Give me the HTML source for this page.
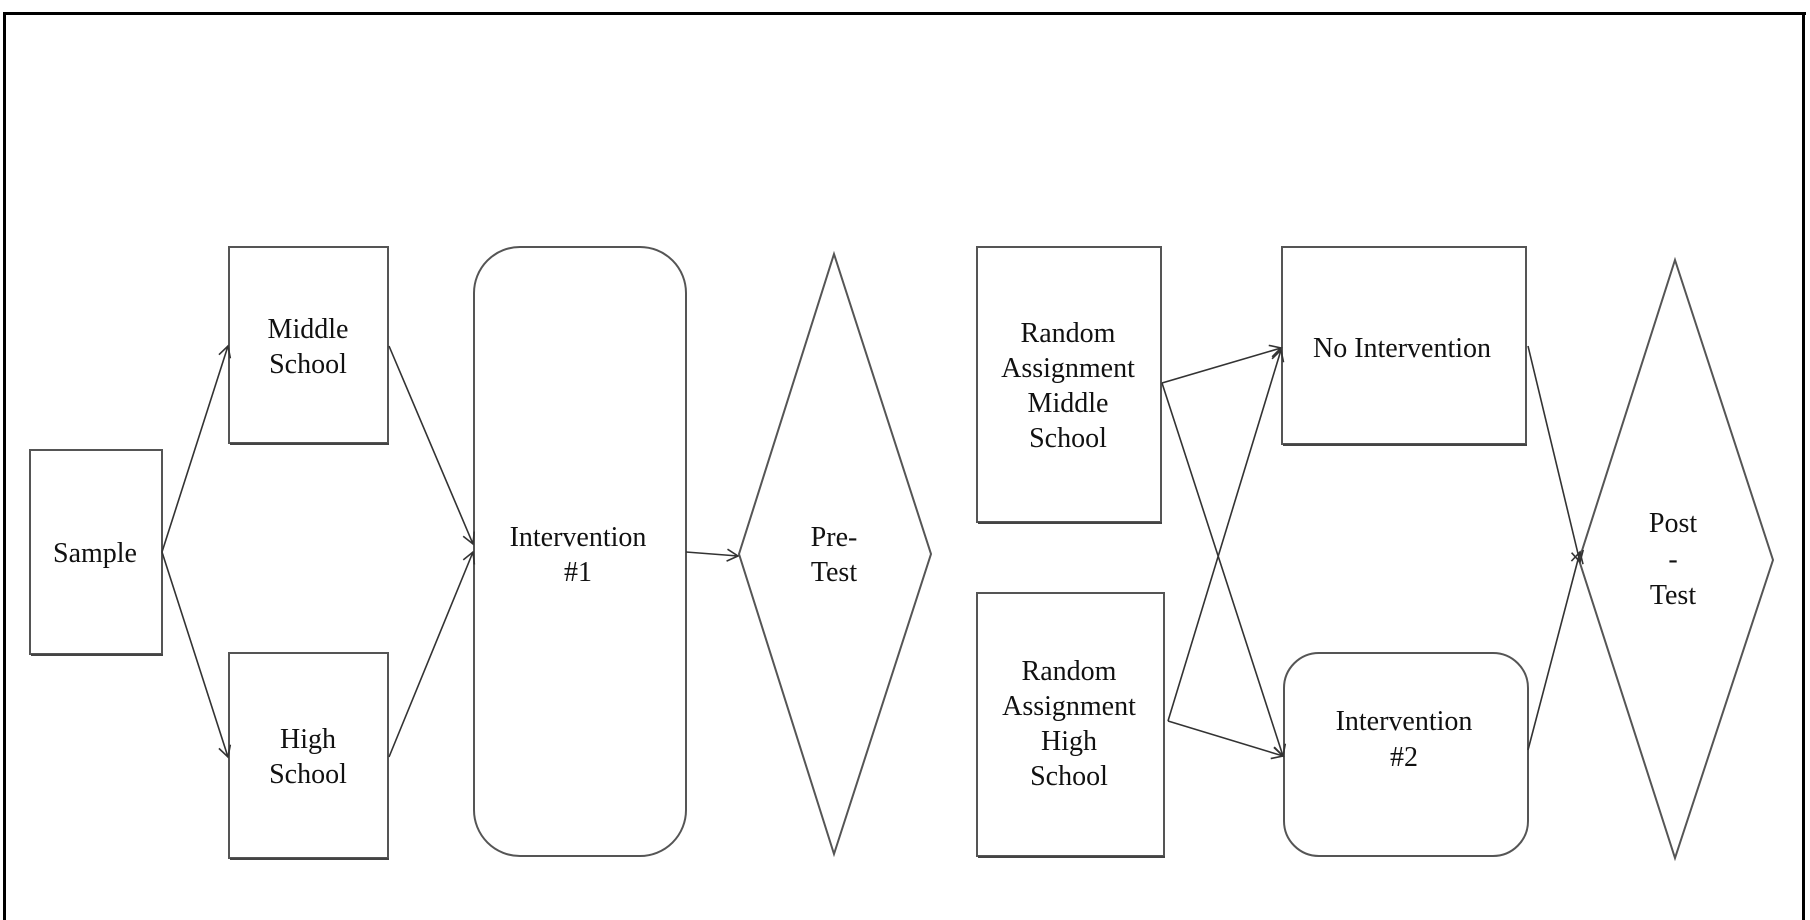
<!DOCTYPE html>
<html><head><meta charset="utf-8"><style>
html,body{margin:0;padding:0;background:#fff;}
svg{display:block;}
text{font-family:"Liberation Serif",serif;font-size:28px;fill:#111;text-anchor:middle;}
</style></head><body>
<svg width="1810" height="920" viewBox="0 0 1810 920" xmlns="http://www.w3.org/2000/svg">
<defs>
<marker id="a" markerWidth="14" markerHeight="14" refX="12" refY="7" orient="auto" markerUnits="userSpaceOnUse">
<path d="M1,1 L12,7 L1,13" fill="none" stroke="#333" stroke-width="1.6"/>
</marker>
</defs>
<rect width="1810" height="920" fill="#fff"/>
<line x1="4.5" y1="12" x2="4.5" y2="920" stroke="#000" stroke-width="3"/>
<line x1="3" y1="13.5" x2="1806" y2="13.5" stroke="#000" stroke-width="3"/>
<line x1="1803.5" y1="12" x2="1803.5" y2="920" stroke="#000" stroke-width="3"/>

<g fill="#fff" stroke="#555" stroke-width="2">
<rect x="30" y="450" width="132" height="204"/>
<rect x="229" y="247" width="159" height="196"/>
<rect x="229" y="653" width="159" height="205"/>
<rect x="474" y="247" width="212" height="609" rx="46"/>
<polygon points="834,254 931,554 834,854 739,554"/>
<rect x="977" y="247" width="184" height="275"/>
<rect x="977" y="593" width="187" height="263"/>
<rect x="1282" y="247" width="244" height="197"/>
<rect x="1284" y="653" width="244" height="203" rx="35"/>
<polygon points="1675,260 1773,560 1675,858 1579,560"/>
</g>
<g stroke="#444" stroke-width="2">
<line x1="31" y1="655" x2="163" y2="655"/>
<line x1="230" y1="444" x2="389" y2="444"/>
<line x1="230" y1="859" x2="389" y2="859"/>
<line x1="978" y1="523" x2="1162" y2="523"/>
<line x1="978" y1="857" x2="1165" y2="857"/>
<line x1="1283" y1="445" x2="1527" y2="445"/>
</g>

<g stroke="#333" stroke-width="1.6" fill="none" marker-end="url(#a)">
<line x1="162" y1="552" x2="228" y2="346"/>
<line x1="162" y1="552" x2="228" y2="757"/>
<line x1="389" y1="346" x2="473" y2="544"/>
<line x1="389" y1="757" x2="473" y2="552"/>
<line x1="686" y1="552" x2="738" y2="556"/>
<line x1="1162" y1="383" x2="1281" y2="348"/>
<line x1="1162" y1="383" x2="1283" y2="756"/>
<line x1="1168" y1="721" x2="1281" y2="350"/>
<line x1="1168" y1="721" x2="1283" y2="756"/>
<line x1="1528" y1="346" x2="1580" y2="562"/>
<line x1="1528" y1="750" x2="1580" y2="552"/>
</g>

<text x="95" y="562">Sample</text>
<text x="308" y="338">Middle</text>
<text x="308" y="373">School</text>
<text x="308" y="748">High</text>
<text x="308" y="783">School</text>
<text x="578" y="546">Intervention</text>
<text x="578" y="581">#1</text>
<text x="834" y="546">Pre-</text>
<text x="834" y="581">Test</text>
<text x="1068" y="342">Random</text>
<text x="1068" y="377">Assignment</text>
<text x="1068" y="412">Middle</text>
<text x="1068" y="447">School</text>
<text x="1069" y="680">Random</text>
<text x="1069" y="715">Assignment</text>
<text x="1069" y="750">High</text>
<text x="1069" y="785">School</text>
<text x="1402" y="357">No Intervention</text>
<text x="1404" y="730">Intervention</text>
<text x="1404" y="766">#2</text>
<text x="1673" y="532">Post</text>
<text x="1673" y="568">-</text>
<text x="1673" y="604">Test</text>
</svg>
</body></html>
